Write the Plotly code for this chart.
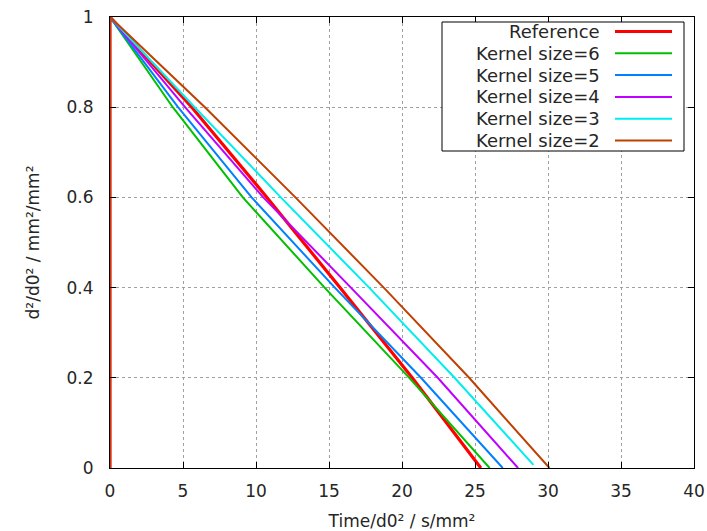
import plotly.graph_objects as go

# d²/d0² levels at which the curves were read
levels = [0.0, 1.0, 0.8, 0.6, 0.4, 0.2, 0.0]

names = ["Reference", "Kernel size=6", "Kernel size=5", "Kernel size=4", "Kernel size=3", "Kernel size=2"]
# Time/d0² at each level (first point is the start at t=0, d²=0)
t_reference = [0.0, 0.0, 5.6, 10.75, 15.75, 20.7, 25.4]
t_k6 = [0.0, 0.0, 4.3, 9.1, 14.7, 20.5, 26.0]
t_k5 = [0.0, 0.0, 4.66, 9.7, 15.4, 21.3, 26.9]
t_k4 = [0.0, 0.0, 5.14, 10.5, 16.5, 22.45, 27.95]
t_k3 = [0.0, 0.0, 5.8, 11.7, 17.75, 23.6, 29.0]
t_k2 = [0.0, 0.0, 6.5, 12.7, 18.75, 24.6, 30.1]
y_k3 = [0.0, 1.0, 0.8, 0.6, 0.4, 0.2, 0.007]

series_t = [t_reference, t_k6, t_k5, t_k4, t_k3, t_k2]
series_y = [levels, levels, levels, levels, y_k3, levels]
colors = ["#ff0000", "#00c000", "#0080ff", "#c000ff", "#00eeee", "#c04000"]
widths = [3.2, 2, 2, 2, 2, 2]

x_ticks = [0, 5, 10, 15, 20, 25, 30, 35, 40]
y_ticks = [0, 0.2, 0.4, 0.6, 0.8, 1]
y_labels = ["0", "0.2", "0.4", "0.6", "0.8", "1"]

fig = go.Figure()
for n, t, y, c, w in zip(names, series_t, series_y, colors, widths):
    fig.add_trace(go.Scatter(x=t, y=y, mode="lines", name=n,
                             line=dict(color=c, width=w),
                             showlegend=False))

font = dict(family="DejaVu Sans", size=17, color="#262626")
legend_font = dict(family="DejaVu Sans", size=18, color="#262626")

# custom gnuplot-like legend (text right-aligned, sample on the right)
L = 110; W = 584; B = 468; H = 451
def px(x): return (x - L) / W
def py(y): return (B - y) / H
shapes = [dict(type="rect", xref="paper", yref="paper",
               x0=px(442), x1=px(684), y0=py(151), y1=py(22),
               line=dict(color="#000000", width=1), fillcolor="white", layer="above")]
annotations = []
for i, (n, c, w) in enumerate(zip(names, colors, widths)):
    yy = 31.5 + i * 21.8
    annotations.append(dict(xref="paper", yref="paper", x=px(602), y=py(yy), text=n,
                            showarrow=False, xanchor="right", yanchor="middle", font=legend_font))
    shapes.append(dict(type="line", xref="paper", yref="paper",
                       x0=px(615), x1=px(672), y0=py(yy), y1=py(yy),
                       line=dict(color=c, width=w), layer="above"))

axis_common = dict(showgrid=True, gridcolor="#a0a0a0", griddash="dot", gridwidth=1,
                   zeroline=False, showline=True, linecolor="#000000", linewidth=1,
                   mirror="ticks", ticks="inside", ticklen=6, tickcolor="#000000",
                   tickfont=font, automargin=False)

fig.update_layout(
    width=707, height=531,
    margin=dict(l=110, r=13, t=17, b=63),
    plot_bgcolor="white", paper_bgcolor="white",
    font=font,
    xaxis=dict(range=[0, 40], tickvals=x_ticks, ticklabelstandoff=8,
               title=dict(text="Time/d0² / s/mm²", font=font, standoff=16), **axis_common),
    yaxis=dict(range=[0, 1], tickvals=y_ticks, ticktext=y_labels, ticklabelstandoff=12,
               title=dict(text="d²/d0² / mm²/mm²", font=font, standoff=22), **axis_common),
    shapes=shapes, annotations=annotations,
)

fig.write_html("out.html")
